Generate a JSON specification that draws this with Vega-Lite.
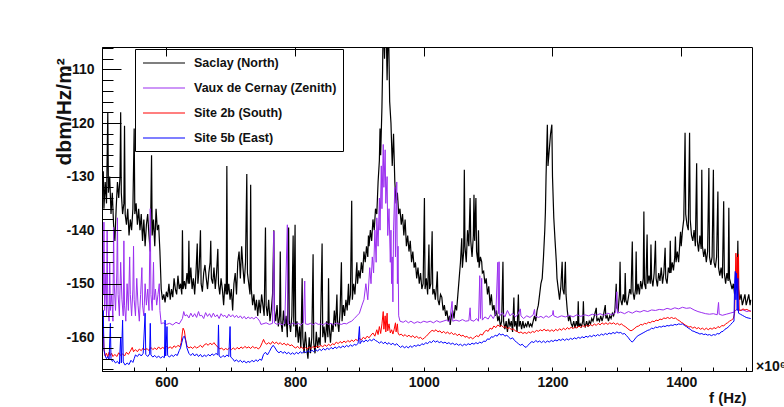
{
"$schema": "https://vega.github.io/schema/vega-lite/v6.json",
"width": 650, "height": 324,
"autosize": {"type": "none"},
"padding": {"left": 102, "top": 47, "right": 32, "bottom": 36},
"background": "white",
"title": {"text": "×10⁶", "orient": "bottom", "anchor": "end", "frame": "group", "align": "left", "baseline": "alphabetic", "dx": 4, "dy": -34, "offset": 0, "font": "Liberation Sans", "fontSize": 14, "fontWeight": "bold", "color": "#111"},
"config": {
  "view": {"stroke": "black", "strokeWidth": 1},
  "font": "Liberation Sans",
  "legend": {"strokeWidth": 1}
},
"datasets": {
"sac": [
{"f":500,"v":-134},{"f":502,"v":-129},{"f":503,"v":-136},{"f":505,"v":-131},{"f":507,"v":-135},{"f":509,"v":-118},{"f":510,"v":-133},{"f":512,"v":-130},{"f":514,"v":-137},{"f":516,"v":-133},{"f":518,"v":-139},{"f":520,"v":-142},{"f":522,"v":-136},{"f":524,"v":-131},{"f":526,"v":-134},{"f":528,"v":-130},{"f":529,"v":-118},{"f":530,"v":-133},{"f":532,"v":-137},{"f":534,"v":-135},{"f":535,"v":-120.5},{"f":536,"v":-137},{"f":538,"v":-139},{"f":540,"v":-136},{"f":542,"v":-141},{"f":544,"v":-138},{"f":546,"v":-140},{"f":548,"v":-136},{"f":550,"v":-121},{"f":551,"v":-137},{"f":553,"v":-135},{"f":555,"v":-139},{"f":557,"v":-136},{"f":559,"v":-140},{"f":561,"v":-137},{"f":563,"v":-142},{"f":565,"v":-138},{"f":567,"v":-143},{"f":569,"v":-139},{"f":571,"v":-137},{"f":573,"v":-141},{"f":575,"v":-144},{"f":577,"v":-126},{"f":578,"v":-141},{"f":580,"v":-138},{"f":582,"v":-143},{"f":584,"v":-136},{"f":586,"v":-140},{"f":588,"v":-139},{"f":590,"v":-144},{"f":592,"v":-151},{"f":594,"v":-153},{"f":596,"v":-152},{"f":598,"v":-153.5},{"f":600,"v":-151.5},{"f":602,"v":-152.5},{"f":604,"v":-150},{"f":606,"v":-153},{"f":608,"v":-151},{"f":610,"v":-152.5},{"f":612,"v":-149},{"f":614,"v":-151},{"f":616,"v":-152},{"f":618,"v":-148.5},{"f":620,"v":-151},{"f":622,"v":-150},{"f":624,"v":-152},{"f":625,"v":-140},{"f":626,"v":-151},{"f":628,"v":-149.5},{"f":630,"v":-151},{"f":632,"v":-148},{"f":634,"v":-150},{"f":635,"v":-142},{"f":636,"v":-150},{"f":638,"v":-147},{"f":640,"v":-151},{"f":642,"v":-149},{"f":644,"v":-152},{"f":646,"v":-148},{"f":648,"v":-142.5},{"f":649,"v":-150},{"f":651,"v":-147},{"f":653,"v":-140},{"f":654,"v":-150},{"f":656,"v":-151.5},{"f":658,"v":-148},{"f":660,"v":-146.5},{"f":662,"v":-149},{"f":664,"v":-151},{"f":666,"v":-148},{"f":668,"v":-146},{"f":669,"v":-142},{"f":670,"v":-149},{"f":672,"v":-150},{"f":674,"v":-147},{"f":676,"v":-151},{"f":678,"v":-148},{"f":680,"v":-143.5},{"f":681,"v":-150},{"f":683,"v":-152},{"f":685,"v":-149},{"f":687,"v":-151},{"f":689,"v":-154},{"f":691,"v":-150},{"f":693,"v":-152},{"f":694,"v":-128},{"f":695,"v":-152},{"f":697,"v":-150},{"f":699,"v":-153},{"f":701,"v":-151},{"f":703,"v":-155},{"f":705,"v":-150},{"f":707,"v":-148},{"f":709,"v":-152},{"f":711,"v":-146},{"f":713,"v":-144},{"f":715,"v":-149},{"f":717,"v":-143},{"f":719,"v":-147},{"f":721,"v":-150},{"f":723,"v":-146},{"f":725,"v":-129.5},{"f":726,"v":-148},{"f":728,"v":-150},{"f":730,"v":-152},{"f":731,"v":-131.5},{"f":732,"v":-151},{"f":734,"v":-154},{"f":736,"v":-152},{"f":738,"v":-155},{"f":740,"v":-153},{"f":742,"v":-156},{"f":744,"v":-153},{"f":746,"v":-155.5},{"f":748,"v":-152},{"f":750,"v":-154},{"f":752,"v":-156},{"f":754,"v":-139.5},{"f":755,"v":-154},{"f":757,"v":-156},{"f":759,"v":-153},{"f":761,"v":-157},{"f":763,"v":-155},{"f":765,"v":-152},{"f":767,"v":-140},{"f":768,"v":-155},{"f":770,"v":-157},{"f":772,"v":-154},{"f":774,"v":-158},{"f":776,"v":-156},{"f":777,"v":-144},{"f":778,"v":-157},{"f":780,"v":-159},{"f":782,"v":-155},{"f":784,"v":-158},{"f":786,"v":-156},{"f":788,"v":-160},{"f":790,"v":-139.5},{"f":791,"v":-157},{"f":793,"v":-159},{"f":795,"v":-156},{"f":797,"v":-141},{"f":798,"v":-158},{"f":800,"v":-139},{"f":801,"v":-160},{"f":803,"v":-157},{"f":805,"v":-161},{"f":807,"v":-158},{"f":809,"v":-162},{"f":811,"v":-149},{"f":812,"v":-160},{"f":814,"v":-163},{"f":816,"v":-159},{"f":818,"v":-162},{"f":820,"v":-164},{"f":822,"v":-160},{"f":824,"v":-163},{"f":826,"v":-160},{"f":828,"v":-144.5},{"f":829,"v":-161},{"f":831,"v":-163},{"f":833,"v":-159},{"f":835,"v":-162},{"f":837,"v":-160},{"f":839,"v":-161.5},{"f":842,"v":-142.5},{"f":843,"v":-160},{"f":845,"v":-158},{"f":847,"v":-161},{"f":849,"v":-157},{"f":851,"v":-160},{"f":852,"v":-149},{"f":853,"v":-158},{"f":855,"v":-161},{"f":857,"v":-157.5},{"f":859,"v":-159},{"f":861,"v":-155},{"f":863,"v":-158},{"f":865,"v":-152},{"f":866,"v":-157},{"f":868,"v":-159},{"f":870,"v":-155},{"f":872,"v":-146},{"f":873,"v":-157},{"f":875,"v":-154},{"f":877,"v":-156},{"f":879,"v":-153},{"f":881,"v":-155},{"f":883,"v":-150},{"f":884,"v":-154},{"f":886,"v":-152},{"f":888,"v":-134.5},{"f":889,"v":-153},{"f":891,"v":-150},{"f":893,"v":-152},{"f":895,"v":-148},{"f":896,"v":-146},{"f":897,"v":-150},{"f":899,"v":-147.5},{"f":901,"v":-149},{"f":903,"v":-146},{"f":905,"v":-148},{"f":907,"v":-144},{"f":909,"v":-146},{"f":911,"v":-143},{"f":913,"v":-145},{"f":914,"v":-141},{"f":915,"v":-143},{"f":917,"v":-140},{"f":919,"v":-142},{"f":921,"v":-138},{"f":923,"v":-140},{"f":925,"v":-136},{"f":927,"v":-137},{"f":929,"v":-131},{"f":931,"v":-127},{"f":932,"v":-121},{"f":933,"v":-126},{"f":935,"v":-117},{"f":936,"v":-110},{"f":937,"v":-100},{"f":939,"v":-108},{"f":941,"v":-98},{"f":943,"v":-112},{"f":945,"v":-100},{"f":947,"v":-116},{"f":949,"v":-120},{"f":951,"v":-128},{"f":953,"v":-122},{"f":955,"v":-131},{"f":957,"v":-135},{"f":959,"v":-133},{"f":961,"v":-137},{"f":963,"v":-136},{"f":965,"v":-139},{"f":967,"v":-137},{"f":969,"v":-141},{"f":971,"v":-138},{"f":973,"v":-143},{"f":975,"v":-141},{"f":977,"v":-144},{"f":979,"v":-142},{"f":981,"v":-146},{"f":983,"v":-144},{"f":985,"v":-147},{"f":987,"v":-146},{"f":989,"v":-149},{"f":991,"v":-147},{"f":993,"v":-150},{"f":995,"v":-148},{"f":997,"v":-151},{"f":999,"v":-150},{"f":1001,"v":-134},{"f":1002,"v":-151},{"f":1004,"v":-149},{"f":1006,"v":-152},{"f":1008,"v":-142.7},{"f":1009,"v":-151},{"f":1011,"v":-150},{"f":1013,"v":-140.2},{"f":1014,"v":-152},{"f":1016,"v":-151},{"f":1018,"v":-153},{"f":1020,"v":-150},{"f":1021,"v":-147.7},{"f":1022,"v":-153},{"f":1024,"v":-154},{"f":1026,"v":-152},{"f":1028,"v":-152.5},{"f":1030,"v":-155},{"f":1032,"v":-154},{"f":1034,"v":-156},{"f":1036,"v":-155},{"f":1038,"v":-157},{"f":1040,"v":-156},{"f":1041,"v":-157.7},{"f":1043,"v":-156},{"f":1045,"v":-155},{"f":1047,"v":-156.5},{"f":1049,"v":-154},{"f":1051,"v":-155},{"f":1053,"v":-152},{"f":1055,"v":-149},{"f":1057,"v":-146},{"f":1059,"v":-141.5},{"f":1060,"v":-147},{"f":1062,"v":-144},{"f":1063,"v":-128.7},{"f":1064,"v":-143},{"f":1066,"v":-146},{"f":1068,"v":-140},{"f":1070,"v":-143},{"f":1072,"v":-134},{"f":1073,"v":-142},{"f":1075,"v":-145},{"f":1077,"v":-141},{"f":1078,"v":-133.4},{"f":1079,"v":-142},{"f":1081,"v":-134},{"f":1082,"v":-144},{"f":1084,"v":-146},{"f":1085,"v":-140},{"f":1086,"v":-147},{"f":1088,"v":-145},{"f":1090,"v":-145.9},{"f":1091,"v":-148},{"f":1093,"v":-147.7},{"f":1095,"v":-150},{"f":1097,"v":-149},{"f":1099,"v":-152},{"f":1101,"v":-150.5},{"f":1103,"v":-154},{"f":1105,"v":-152},{"f":1107,"v":-155},{"f":1109,"v":-154},{"f":1111,"v":-156},{"f":1113,"v":-155},{"f":1115,"v":-157},{"f":1117,"v":-156},{"f":1119,"v":-158},{"f":1121,"v":-157},{"f":1123,"v":-145.9},{"f":1124,"v":-157},{"f":1126,"v":-158.5},{"f":1128,"v":-157},{"f":1130,"v":-159},{"f":1132,"v":-156.5},{"f":1134,"v":-158},{"f":1136,"v":-157},{"f":1138,"v":-159},{"f":1140,"v":-152.6},{"f":1141,"v":-158},{"f":1143,"v":-157},{"f":1145,"v":-159},{"f":1147,"v":-152},{"f":1148,"v":-158},{"f":1150,"v":-157},{"f":1152,"v":-158.5},{"f":1154,"v":-157},{"f":1156,"v":-158.3},{"f":1158,"v":-157.5},{"f":1160,"v":-158},{"f":1162,"v":-157},{"f":1164,"v":-158},{"f":1166,"v":-157.5},{"f":1168,"v":-158},{"f":1170,"v":-157},{"f":1172,"v":-156},{"f":1174,"v":-157},{"f":1176,"v":-155},{"f":1178,"v":-154},{"f":1180,"v":-152},{"f":1182,"v":-150},{"f":1184,"v":-149},{"f":1186,"v":-145},{"f":1188,"v":-140},{"f":1189,"v":-136.5},{"f":1190,"v":-130},{"f":1192,"v":-120.3},{"f":1193,"v":-128},{"f":1195,"v":-125},{"f":1197,"v":-122},{"f":1199,"v":-120.3},{"f":1200,"v":-130},{"f":1202,"v":-137.7},{"f":1204,"v":-142},{"f":1206,"v":-146},{"f":1207,"v":-149},{"f":1209,"v":-151},{"f":1211,"v":-153},{"f":1213,"v":-150.5},{"f":1215,"v":-145.9},{"f":1216,"v":-151},{"f":1218,"v":-152},{"f":1220,"v":-145.9},{"f":1221,"v":-152},{"f":1223,"v":-155},{"f":1225,"v":-157},{"f":1227,"v":-156},{"f":1229,"v":-157.5},{"f":1231,"v":-158},{"f":1233,"v":-157},{"f":1235,"v":-158.3},{"f":1237,"v":-157},{"f":1239,"v":-158},{"f":1240,"v":-153.3},{"f":1241,"v":-158},{"f":1243,"v":-157.5},{"f":1245,"v":-158},{"f":1247,"v":-157},{"f":1248,"v":-153.3},{"f":1249,"v":-157.5},{"f":1251,"v":-158},{"f":1253,"v":-157},{"f":1255,"v":-158},{"f":1257,"v":-157},{"f":1259,"v":-157.5},{"f":1261,"v":-156.5},{"f":1263,"v":-157},{"f":1265,"v":-156},{"f":1268,"v":-154.5},{"f":1269,"v":-157},{"f":1271,"v":-156.5},{"f":1273,"v":-157},{"f":1275,"v":-156},{"f":1277,"v":-157},{"f":1279,"v":-156},{"f":1282,"v":-154},{"f":1283,"v":-156.5},{"f":1285,"v":-156},{"f":1287,"v":-157},{"f":1289,"v":-156},{"f":1291,"v":-156.5},{"f":1293,"v":-155.5},{"f":1295,"v":-156},{"f":1297,"v":-155},{"f":1299,"v":-150},{"f":1300,"v":-154.5},{"f":1302,"v":-155},{"f":1304,"v":-152},{"f":1305,"v":-145.9},{"f":1306,"v":-153},{"f":1308,"v":-154},{"f":1310,"v":-152},{"f":1312,"v":-153.5},{"f":1313,"v":-148},{"f":1314,"v":-153},{"f":1316,"v":-154},{"f":1318,"v":-152.5},{"f":1320,"v":-151},{"f":1322,"v":-152},{"f":1324,"v":-142.1},{"f":1325,"v":-151.5},{"f":1327,"v":-153},{"f":1329,"v":-151},{"f":1330,"v":-144},{"f":1331,"v":-152},{"f":1333,"v":-150},{"f":1335,"v":-152},{"f":1337,"v":-149.5},{"f":1339,"v":-151},{"f":1341,"v":-149},{"f":1342,"v":-136.5},{"f":1343,"v":-150},{"f":1345,"v":-151},{"f":1347,"v":-140.8},{"f":1348,"v":-150},{"f":1350,"v":-148.5},{"f":1352,"v":-150},{"f":1353,"v":-142.7},{"f":1354,"v":-149},{"f":1356,"v":-150.5},{"f":1358,"v":-148},{"f":1360,"v":-142},{"f":1361,"v":-149},{"f":1363,"v":-150.5},{"f":1365,"v":-148},{"f":1367,"v":-149.5},{"f":1369,"v":-147},{"f":1371,"v":-150},{"f":1373,"v":-148},{"f":1375,"v":-143.3},{"f":1376,"v":-149},{"f":1378,"v":-150},{"f":1380,"v":-147},{"f":1382,"v":-148},{"f":1383,"v":-142},{"f":1384,"v":-148},{"f":1386,"v":-146},{"f":1388,"v":-147.5},{"f":1390,"v":-145},{"f":1391,"v":-141.2},{"f":1392,"v":-146},{"f":1394,"v":-144},{"f":1396,"v":-146},{"f":1398,"v":-142},{"f":1399,"v":-140.3},{"f":1400,"v":-143},{"f":1402,"v":-140},{"f":1404,"v":-138},{"f":1406,"v":-121.8},{"f":1407,"v":-137},{"f":1409,"v":-139},{"f":1411,"v":-140},{"f":1413,"v":-121.8},{"f":1414,"v":-138},{"f":1416,"v":-141},{"f":1418,"v":-142},{"f":1420,"v":-140},{"f":1422,"v":-143},{"f":1424,"v":-127.5},{"f":1425,"v":-142},{"f":1427,"v":-144},{"f":1429,"v":-141},{"f":1431,"v":-143.5},{"f":1432,"v":-128.7},{"f":1433,"v":-143},{"f":1435,"v":-145},{"f":1437,"v":-143.5},{"f":1439,"v":-146},{"f":1441,"v":-144},{"f":1443,"v":-128.4},{"f":1444,"v":-145},{"f":1446,"v":-146.5},{"f":1448,"v":-145},{"f":1450,"v":-128.7},{"f":1451,"v":-146},{"f":1453,"v":-147},{"f":1455,"v":-145},{"f":1457,"v":-132.8},{"f":1458,"v":-147},{"f":1460,"v":-148.5},{"f":1462,"v":-147},{"f":1464,"v":-149},{"f":1466,"v":-134.6},{"f":1467,"v":-148},{"f":1469,"v":-150},{"f":1471,"v":-148},{"f":1473,"v":-149.5},{"f":1474,"v":-135.8},{"f":1475,"v":-149},{"f":1477,"v":-150},{"f":1479,"v":-151},{"f":1481,"v":-150},{"f":1483,"v":-152},{"f":1485,"v":-151},{"f":1487,"v":-150},{"f":1488,"v":-142},{"f":1489,"v":-151},{"f":1491,"v":-153},{"f":1493,"v":-152},{"f":1495,"v":-154},{"f":1497,"v":-153},{"f":1499,"v":-152},{"f":1501,"v":-154},{"f":1503,"v":-153},{"f":1505,"v":-152},{"f":1507,"v":-154},{"f":1508,"v":-153}
],
"vdc": [
{"f":500,"v":-150},{"f":501,"v":-141},{"f":502,"v":-152},{"f":503,"v":-138.5},{"f":504,"v":-155},{"f":506,"v":-148},{"f":507,"v":-156},{"f":508,"v":-140},{"f":509,"v":-154},{"f":511,"v":-157},{"f":512,"v":-146},{"f":513,"v":-155},{"f":515,"v":-152},{"f":517,"v":-157},{"f":518,"v":-139.5},{"f":519,"v":-150},{"f":521,"v":-155},{"f":523,"v":-148},{"f":524,"v":-137.7},{"f":525,"v":-152},{"f":527,"v":-156},{"f":529,"v":-146},{"f":531,"v":-153},{"f":533,"v":-156},{"f":534,"v":-142},{"f":535,"v":-154},{"f":537,"v":-157},{"f":539,"v":-150},{"f":541,"v":-155},{"f":543,"v":-145},{"f":544,"v":-152},{"f":546,"v":-156},{"f":548,"v":-151},{"f":549,"v":-143},{"f":550,"v":-153},{"f":552,"v":-156},{"f":554,"v":-149},{"f":556,"v":-154},{"f":558,"v":-157},{"f":560,"v":-152},{"f":562,"v":-147},{"f":563,"v":-154},{"f":565,"v":-156},{"f":567,"v":-150},{"f":569,"v":-154},{"f":571,"v":-151},{"f":573,"v":-155},{"f":575,"v":-136},{"f":576,"v":-152},{"f":578,"v":-155},{"f":580,"v":-146},{"f":581,"v":-153},{"f":583,"v":-151},{"f":585,"v":-154},{"f":587,"v":-152},{"f":589,"v":-150},{"f":590,"v":-155},{"f":592,"v":-157.5},{"f":595,"v":-157.3},{"f":600,"v":-157.6},{"f":605,"v":-157.4},{"f":610,"v":-157.7},{"f":615,"v":-157.2},{"f":620,"v":-157.5},{"f":625,"v":-156.5},{"f":627,"v":-155.2},{"f":629,"v":-156},{"f":632,"v":-155.8},{"f":635,"v":-156.4},{"f":638,"v":-155.5},{"f":641,"v":-156.2},{"f":644,"v":-155.6},{"f":647,"v":-156.3},{"f":650,"v":-155.2},{"f":652,"v":-156},{"f":655,"v":-155.9},{"f":658,"v":-156.5},{"f":661,"v":-155.4},{"f":664,"v":-156.1},{"f":667,"v":-155.6},{"f":670,"v":-156.3},{"f":673,"v":-155.5},{"f":676,"v":-156.2},{"f":679,"v":-155.8},{"f":682,"v":-156.5},{"f":685,"v":-155.6},{"f":688,"v":-156.1},{"f":691,"v":-155.9},{"f":694,"v":-156.4},{"f":697,"v":-155.7},{"f":700,"v":-156.2},{"f":703,"v":-155.8},{"f":706,"v":-156.3},{"f":709,"v":-155.9},{"f":712,"v":-156.4},{"f":715,"v":-156},{"f":718,"v":-156.5},{"f":721,"v":-156.1},{"f":724,"v":-156.6},{"f":727,"v":-156.2},{"f":730,"v":-156.5},{"f":733,"v":-156.3},{"f":736,"v":-156.6},{"f":739,"v":-156.2},{"f":742,"v":-156.5},{"f":745,"v":-157},{"f":747,"v":-157.6},{"f":750,"v":-157.5},{"f":755,"v":-157.3},{"f":760,"v":-157.6},{"f":765,"v":-157.4},{"f":767,"v":-140.2},{"f":768,"v":-157.3},{"f":772,"v":-157.6},{"f":776,"v":-157.4},{"f":780,"v":-157.7},{"f":784,"v":-157.4},{"f":788,"v":-139},{"f":789,"v":-157.5},{"f":793,"v":-157.7},{"f":797,"v":-157.3},{"f":801,"v":-157.6},{"f":805,"v":-157.4},{"f":809,"v":-157.7},{"f":813,"v":-157.3},{"f":815,"v":-149.5},{"f":816,"v":-157.5},{"f":820,"v":-157.6},{"f":824,"v":-157.4},{"f":828,"v":-157.7},{"f":832,"v":-157.3},{"f":836,"v":-157.6},{"f":840,"v":-157.5},{"f":844,"v":-157.7},{"f":848,"v":-157.3},{"f":852,"v":-157.6},{"f":856,"v":-157.4},{"f":860,"v":-157.7},{"f":864,"v":-157.3},{"f":868,"v":-157.5},{"f":872,"v":-157.6},{"f":876,"v":-157.4},{"f":880,"v":-157.5},{"f":884,"v":-157.2},{"f":888,"v":-157},{"f":892,"v":-156.5},{"f":896,"v":-156},{"f":900,"v":-155.5},{"f":904,"v":-154},{"f":907,"v":-153},{"f":910,"v":-150},{"f":913,"v":-153},{"f":916,"v":-147},{"f":918,"v":-150},{"f":920,"v":-145},{"f":922,"v":-148},{"f":924,"v":-140},{"f":926,"v":-146},{"f":927,"v":-137.7},{"f":929,"v":-143},{"f":931,"v":-134},{"f":932,"v":-140},{"f":934,"v":-128},{"f":935,"v":-136},{"f":937,"v":-124},{"f":938,"v":-132},{"f":940,"v":-125},{"f":941,"v":-135},{"f":943,"v":-130},{"f":944,"v":-141},{"f":946,"v":-136},{"f":948,"v":-146},{"f":949,"v":-140},{"f":950,"v":-150},{"f":951,"v":-145},{"f":952,"v":-153.4},{"f":953,"v":-140},{"f":955,"v":-132},{"f":956,"v":-145},{"f":958,"v":-131},{"f":959,"v":-150},{"f":960,"v":-143},{"f":961,"v":-156},{"f":963,"v":-157},{"f":968,"v":-157.2},{"f":972,"v":-156.9},{"f":976,"v":-157.3},{"f":980,"v":-157},{"f":985,"v":-157.4},{"f":990,"v":-157.1},{"f":995,"v":-157.3},{"f":1000,"v":-157},{"f":1005,"v":-157.2},{"f":1010,"v":-157},{"f":1015,"v":-157.3},{"f":1020,"v":-156.9},{"f":1025,"v":-157.2},{"f":1030,"v":-157},{"f":1035,"v":-156.8},{"f":1040,"v":-157.1},{"f":1044,"v":-153.3},{"f":1045,"v":-157},{"f":1050,"v":-156.8},{"f":1055,"v":-157},{"f":1060,"v":-156.7},{"f":1065,"v":-157},{"f":1070,"v":-156.9},{"f":1072,"v":-154.5},{"f":1073,"v":-156.8},{"f":1078,"v":-157},{"f":1082,"v":-156.5},{"f":1085,"v":-157},{"f":1087,"v":-148.5},{"f":1088,"v":-156.5},{"f":1090,"v":-149},{"f":1091,"v":-156.8},{"f":1095,"v":-156.2},{"f":1100,"v":-156.6},{"f":1104,"v":-155.8},{"f":1108,"v":-156.5},{"f":1112,"v":-155.5},{"f":1115,"v":-146},{"f":1116,"v":-155.6},{"f":1117,"v":-145.9},{"f":1118,"v":-156},{"f":1122,"v":-155.4},{"f":1126,"v":-156.2},{"f":1130,"v":-155},{"f":1134,"v":-156},{"f":1138,"v":-155.5},{"f":1142,"v":-156.2},{"f":1146,"v":-155.8},{"f":1150,"v":-154.7},{"f":1151,"v":-156},{"f":1155,"v":-156.5},{"f":1160,"v":-156},{"f":1165,"v":-156.3},{"f":1170,"v":-155.8},{"f":1172,"v":-154.8},{"f":1173,"v":-156},{"f":1178,"v":-156.3},{"f":1182,"v":-156.1},{"f":1186,"v":-156.4},{"f":1190,"v":-156},{"f":1194,"v":-156.3},{"f":1200,"v":-155.8},{"f":1201,"v":-155},{"f":1202,"v":-156},{"f":1208,"v":-156.3},{"f":1214,"v":-156},{"f":1220,"v":-156.2},{"f":1226,"v":-155.9},{"f":1232,"v":-156.2},{"f":1238,"v":-155.8},{"f":1244,"v":-156.1},{"f":1250,"v":-155.8},{"f":1256,"v":-156},{"f":1262,"v":-155.7},{"f":1268,"v":-155.9},{"f":1274,"v":-155.6},{"f":1280,"v":-155.9},{"f":1286,"v":-155.5},{"f":1292,"v":-155.8},{"f":1298,"v":-155.4},{"f":1300,"v":-151.5},{"f":1301,"v":-155.5},{"f":1306,"v":-155.3},{"f":1312,"v":-155.6},{"f":1318,"v":-155.2},{"f":1324,"v":-155.5},{"f":1330,"v":-155.1},{"f":1336,"v":-155.3},{"f":1342,"v":-155},{"f":1348,"v":-155.2},{"f":1354,"v":-154.9},{"f":1360,"v":-155},{"f":1366,"v":-154.8},{"f":1372,"v":-154.9},{"f":1378,"v":-154.6},{"f":1384,"v":-154.8},{"f":1390,"v":-154.5},{"f":1396,"v":-154.7},{"f":1402,"v":-154.4},{"f":1408,"v":-154.6},{"f":1414,"v":-154.5},{"f":1420,"v":-154.9},{"f":1426,"v":-155.2},{"f":1432,"v":-155.4},{"f":1438,"v":-155.6},{"f":1444,"v":-155.7},{"f":1450,"v":-155.6},{"f":1456,"v":-155.8},{"f":1458,"v":-153.5},{"f":1459,"v":-155.7},{"f":1464,"v":-155.9},{"f":1470,"v":-155.7},{"f":1476,"v":-155.5},{"f":1482,"v":-155.3},{"f":1486,"v":-154.8},{"f":1490,"v":-155},{"f":1496,"v":-154.9},{"f":1502,"v":-155.2},{"f":1508,"v":-155}
],
"s2b": [
{"f":500,"v":-152},{"f":501,"v":-155},{"f":502,"v":-158},{"f":503,"v":-162},{"f":505,"v":-163.5},{"f":507,"v":-163},{"f":509,"v":-163.7},{"f":511,"v":-162.8},{"f":513,"v":-163.4},{"f":515,"v":-163},{"f":517,"v":-163.6},{"f":520,"v":-163.2},{"f":523,"v":-163.6},{"f":526,"v":-162.9},{"f":529,"v":-163.4},{"f":532,"v":-163.1},{"f":535,"v":-163.5},{"f":538,"v":-162.8},{"f":541,"v":-163.2},{"f":544,"v":-162.6},{"f":547,"v":-161.9},{"f":549,"v":-162.7},{"f":552,"v":-162.3},{"f":555,"v":-162.7},{"f":558,"v":-162.2},{"f":561,"v":-162.5},{"f":564,"v":-162},{"f":567,"v":-162.4},{"f":570,"v":-162.1},{"f":573,"v":-162.5},{"f":576,"v":-161.9},{"f":579,"v":-162.3},{"f":582,"v":-162},{"f":585,"v":-162.3},{"f":588,"v":-161.8},{"f":591,"v":-162.2},{"f":594,"v":-161.9},{"f":597,"v":-162.1},{"f":600,"v":-161.7},{"f":603,"v":-162},{"f":606,"v":-161.8},{"f":609,"v":-162.1},{"f":612,"v":-161.6},{"f":615,"v":-161.9},{"f":618,"v":-161.5},{"f":621,"v":-161.8},{"f":623,"v":-161},{"f":625,"v":-159},{"f":626,"v":-158.3},{"f":628,"v":-158.8},{"f":630,"v":-160.5},{"f":632,"v":-161.6},{"f":635,"v":-162},{"f":638,"v":-161.8},{"f":641,"v":-162.1},{"f":644,"v":-161.7},{"f":647,"v":-162},{"f":650,"v":-161.8},{"f":653,"v":-161.5},{"f":656,"v":-161.9},{"f":659,"v":-161.4},{"f":662,"v":-161.2},{"f":665,"v":-161.5},{"f":668,"v":-161.1},{"f":671,"v":-161.4},{"f":674,"v":-161},{"f":677,"v":-161.5},{"f":680,"v":-161.8},{"f":683,"v":-162.2},{"f":686,"v":-162},{"f":689,"v":-162.4},{"f":692,"v":-162.1},{"f":695,"v":-162.3},{"f":698,"v":-162},{"f":701,"v":-162.3},{"f":704,"v":-162},{"f":707,"v":-162.3},{"f":710,"v":-161.9},{"f":713,"v":-162.2},{"f":716,"v":-161.8},{"f":719,"v":-162.1},{"f":722,"v":-161.7},{"f":725,"v":-162},{"f":728,"v":-161.8},{"f":731,"v":-162.1},{"f":734,"v":-161.7},{"f":737,"v":-162},{"f":740,"v":-161.9},{"f":743,"v":-162.2},{"f":746,"v":-161.8},{"f":749,"v":-161},{"f":751,"v":-160.4},{"f":753,"v":-161},{"f":756,"v":-161.3},{"f":759,"v":-161},{"f":762,"v":-161.3},{"f":765,"v":-160.8},{"f":768,"v":-161.2},{"f":771,"v":-160.9},{"f":774,"v":-161.3},{"f":777,"v":-161},{"f":780,"v":-161.4},{"f":783,"v":-161.1},{"f":786,"v":-161.5},{"f":789,"v":-161.2},{"f":792,"v":-161.6},{"f":795,"v":-161.4},{"f":798,"v":-161.8},{"f":801,"v":-162},{"f":804,"v":-161.7},{"f":807,"v":-162.1},{"f":810,"v":-161.8},{"f":813,"v":-162.2},{"f":816,"v":-161.9},{"f":819,"v":-162.2},{"f":822,"v":-161.8},{"f":825,"v":-162.1},{"f":828,"v":-161.7},{"f":831,"v":-162},{"f":834,"v":-161.6},{"f":837,"v":-161.9},{"f":840,"v":-161.5},{"f":843,"v":-161.8},{"f":846,"v":-161.4},{"f":849,"v":-161.7},{"f":852,"v":-161.3},{"f":855,"v":-161.6},{"f":858,"v":-161.2},{"f":861,"v":-161.4},{"f":864,"v":-160.9},{"f":867,"v":-161.2},{"f":870,"v":-160.8},{"f":873,"v":-161.1},{"f":876,"v":-160.7},{"f":879,"v":-161},{"f":882,"v":-160.6},{"f":885,"v":-160.9},{"f":888,"v":-160.5},{"f":891,"v":-160.8},{"f":894,"v":-160.4},{"f":897,"v":-160.6},{"f":900,"v":-160.2},{"f":903,"v":-160.5},{"f":906,"v":-160},{"f":909,"v":-160.3},{"f":912,"v":-159.8},{"f":915,"v":-160.1},{"f":918,"v":-159.6},{"f":921,"v":-159.2},{"f":924,"v":-159.8},{"f":927,"v":-158.6},{"f":929,"v":-159.5},{"f":931,"v":-158},{"f":933,"v":-159.3},{"f":935,"v":-157.5},{"f":937,"v":-155.2},{"f":938,"v":-158.5},{"f":940,"v":-156},{"f":941,"v":-159},{"f":943,"v":-155.5},{"f":944,"v":-158.8},{"f":946,"v":-157.5},{"f":948,"v":-159.2},{"f":950,"v":-158.6},{"f":952,"v":-159.4},{"f":954,"v":-158.5},{"f":956,"v":-157.3},{"f":957,"v":-159},{"f":959,"v":-157.5},{"f":960,"v":-159.2},{"f":962,"v":-159.6},{"f":965,"v":-159.4},{"f":968,"v":-159.8},{"f":971,"v":-159.5},{"f":974,"v":-159.9},{"f":977,"v":-159.6},{"f":980,"v":-160},{"f":983,"v":-159.7},{"f":986,"v":-160.1},{"f":989,"v":-159.8},{"f":992,"v":-160.2},{"f":995,"v":-160},{"f":998,"v":-160.4},{"f":1001,"v":-160.1},{"f":1004,"v":-159.8},{"f":1007,"v":-159.4},{"f":1010,"v":-159},{"f":1013,"v":-158.7},{"f":1016,"v":-158.9},{"f":1019,"v":-158.6},{"f":1022,"v":-159},{"f":1025,"v":-158.8},{"f":1028,"v":-159.2},{"f":1031,"v":-158.9},{"f":1034,"v":-159.3},{"f":1037,"v":-159},{"f":1040,"v":-159.4},{"f":1043,"v":-159.1},{"f":1046,"v":-159.5},{"f":1049,"v":-159.3},{"f":1052,"v":-159.7},{"f":1055,"v":-159.4},{"f":1058,"v":-159.8},{"f":1061,"v":-159.6},{"f":1064,"v":-160},{"f":1067,"v":-159.8},{"f":1070,"v":-160.2},{"f":1073,"v":-160},{"f":1076,"v":-160.3},{"f":1079,"v":-160},{"f":1082,"v":-159.7},{"f":1085,"v":-159.9},{"f":1088,"v":-159.4},{"f":1091,"v":-159.6},{"f":1094,"v":-159},{"f":1097,"v":-158.7},{"f":1100,"v":-158.9},{"f":1103,"v":-158.3},{"f":1106,"v":-158.5},{"f":1109,"v":-157.9},{"f":1112,"v":-158.2},{"f":1115,"v":-157.7},{"f":1118,"v":-158},{"f":1121,"v":-157.8},{"f":1124,"v":-158.2},{"f":1127,"v":-158},{"f":1130,"v":-158.4},{"f":1133,"v":-158.2},{"f":1136,"v":-158.6},{"f":1139,"v":-158.4},{"f":1142,"v":-158.8},{"f":1145,"v":-158.9},{"f":1148,"v":-159.2},{"f":1151,"v":-159},{"f":1154,"v":-159.3},{"f":1157,"v":-159.1},{"f":1160,"v":-159.3},{"f":1163,"v":-159},{"f":1166,"v":-159.2},{"f":1169,"v":-158.9},{"f":1172,"v":-159.1},{"f":1175,"v":-158.7},{"f":1178,"v":-158.9},{"f":1181,"v":-158.6},{"f":1184,"v":-158.8},{"f":1187,"v":-158.5},{"f":1190,"v":-158.8},{"f":1193,"v":-158.6},{"f":1196,"v":-158.9},{"f":1199,"v":-158.6},{"f":1202,"v":-158.9},{"f":1205,"v":-158.5},{"f":1208,"v":-158.8},{"f":1211,"v":-158.4},{"f":1214,"v":-158.7},{"f":1217,"v":-158.3},{"f":1220,"v":-158.6},{"f":1223,"v":-158.2},{"f":1226,"v":-158.5},{"f":1229,"v":-158.1},{"f":1232,"v":-158.4},{"f":1235,"v":-158},{"f":1238,"v":-158.3},{"f":1241,"v":-157.9},{"f":1244,"v":-158.2},{"f":1247,"v":-157.8},{"f":1250,"v":-158.1},{"f":1253,"v":-157.7},{"f":1256,"v":-158},{"f":1259,"v":-157.6},{"f":1262,"v":-157.9},{"f":1265,"v":-157.5},{"f":1268,"v":-157.8},{"f":1271,"v":-157.4},{"f":1274,"v":-157.7},{"f":1277,"v":-157.3},{"f":1280,"v":-157.6},{"f":1283,"v":-157.3},{"f":1286,"v":-157.6},{"f":1289,"v":-157.3},{"f":1292,"v":-157.5},{"f":1295,"v":-157.3},{"f":1298,"v":-157.6},{"f":1301,"v":-157.4},{"f":1304,"v":-157.7},{"f":1307,"v":-157.5},{"f":1310,"v":-157.8},{"f":1313,"v":-158},{"f":1316,"v":-158.3},{"f":1319,"v":-158.6},{"f":1322,"v":-158.8},{"f":1325,"v":-158.6},{"f":1328,"v":-158.3},{"f":1331,"v":-158},{"f":1334,"v":-157.9},{"f":1337,"v":-157.6},{"f":1340,"v":-157.7},{"f":1343,"v":-157.4},{"f":1346,"v":-157.5},{"f":1349,"v":-157.2},{"f":1352,"v":-157.3},{"f":1355,"v":-157},{"f":1358,"v":-157.1},{"f":1361,"v":-156.8},{"f":1364,"v":-156.9},{"f":1367,"v":-156.6},{"f":1370,"v":-156.7},{"f":1373,"v":-156.4},{"f":1376,"v":-156.5},{"f":1379,"v":-156.3},{"f":1382,"v":-156.5},{"f":1385,"v":-156.3},{"f":1388,"v":-156.5},{"f":1391,"v":-156.4},{"f":1394,"v":-156.7},{"f":1397,"v":-156.9},{"f":1400,"v":-157.2},{"f":1403,"v":-157.4},{"f":1406,"v":-157.7},{"f":1409,"v":-157.9},{"f":1412,"v":-158.1},{"f":1415,"v":-158},{"f":1418,"v":-158.3},{"f":1421,"v":-158.1},{"f":1424,"v":-158.4},{"f":1427,"v":-158.2},{"f":1430,"v":-158.5},{"f":1433,"v":-158.3},{"f":1436,"v":-158.6},{"f":1439,"v":-158.3},{"f":1442,"v":-158.6},{"f":1445,"v":-158.3},{"f":1448,"v":-158.5},{"f":1451,"v":-158.2},{"f":1454,"v":-158.4},{"f":1457,"v":-158},{"f":1460,"v":-158.2},{"f":1463,"v":-157.8},{"f":1466,"v":-157.9},{"f":1469,"v":-157.5},{"f":1472,"v":-157.3},{"f":1475,"v":-157},{"f":1478,"v":-156.8},{"f":1481,"v":-156.5},{"f":1483,"v":-155.5},{"f":1484,"v":-149},{"f":1485,"v":-144.3},{"f":1486,"v":-150},{"f":1487,"v":-145},{"f":1488,"v":-152},{"f":1489,"v":-144.5},{"f":1490,"v":-154.9},{"f":1493,"v":-155},{"f":1496,"v":-154.7},{"f":1499,"v":-154.9},{"f":1502,"v":-154.8},{"f":1505,"v":-155},{"f":1508,"v":-155.2}
],
"s5b": [
{"f":500,"v":-156},{"f":501,"v":-160},{"f":502,"v":-155},{"f":503,"v":-162.4},{"f":505,"v":-163.5},{"f":507,"v":-164},{"f":509,"v":-163.6},{"f":511,"v":-164.2},{"f":513,"v":-157.4},{"f":514,"v":-164},{"f":516,"v":-164.5},{"f":518,"v":-164.3},{"f":521,"v":-164.8},{"f":524,"v":-164.5},{"f":527,"v":-165},{"f":529,"v":-160},{"f":530,"v":-164.8},{"f":532,"v":-156.8},{"f":533,"v":-164.6},{"f":536,"v":-165.2},{"f":539,"v":-164.8},{"f":542,"v":-165.1},{"f":545,"v":-164.3},{"f":548,"v":-164.7},{"f":550,"v":-164},{"f":552,"v":-163.3},{"f":555,"v":-163.6},{"f":558,"v":-163.1},{"f":561,"v":-163.5},{"f":564,"v":-163},{"f":567,"v":-155.5},{"f":568,"v":-163.2},{"f":571,"v":-163.6},{"f":574,"v":-163.1},{"f":575,"v":-157.4},{"f":576,"v":-163.3},{"f":579,"v":-163.7},{"f":582,"v":-163.4},{"f":585,"v":-163.8},{"f":588,"v":-163.5},{"f":591,"v":-163.9},{"f":594,"v":-163.6},{"f":597,"v":-163.8},{"f":598,"v":-156.8},{"f":599,"v":-163.5},{"f":601,"v":-158},{"f":602,"v":-163.4},{"f":605,"v":-163.7},{"f":608,"v":-163.3},{"f":611,"v":-163.6},{"f":614,"v":-163.2},{"f":617,"v":-163.4},{"f":620,"v":-162.5},{"f":622,"v":-162},{"f":624,"v":-161},{"f":626,"v":-160},{"f":628,"v":-159.8},{"f":630,"v":-160.6},{"f":632,"v":-162},{"f":635,"v":-163},{"f":638,"v":-163.4},{"f":641,"v":-163},{"f":644,"v":-163.5},{"f":647,"v":-163.1},{"f":650,"v":-163.6},{"f":653,"v":-163.2},{"f":656,"v":-163.7},{"f":659,"v":-163.3},{"f":662,"v":-163.6},{"f":665,"v":-163.2},{"f":668,"v":-163.5},{"f":671,"v":-163.1},{"f":674,"v":-163.4},{"f":677,"v":-163},{"f":680,"v":-163.3},{"f":681,"v":-157.7},{"f":682,"v":-163.5},{"f":685,"v":-163.8},{"f":688,"v":-163.4},{"f":691,"v":-163.7},{"f":694,"v":-163.3},{"f":697,"v":-163.6},{"f":699,"v":-158},{"f":700,"v":-163.7},{"f":703,"v":-164},{"f":706,"v":-164.5},{"f":709,"v":-164.2},{"f":712,"v":-164.6},{"f":715,"v":-164.3},{"f":718,"v":-164.7},{"f":721,"v":-164.4},{"f":724,"v":-164.8},{"f":727,"v":-164.5},{"f":730,"v":-164.7},{"f":733,"v":-164.3},{"f":736,"v":-164.6},{"f":739,"v":-164.2},{"f":742,"v":-164.5},{"f":745,"v":-164.1},{"f":748,"v":-164.3},{"f":751,"v":-163.2},{"f":754,"v":-162.8},{"f":757,"v":-163.3},{"f":760,"v":-162.7},{"f":763,"v":-162},{"f":766,"v":-161.5},{"f":769,"v":-162},{"f":772,"v":-162.6},{"f":775,"v":-162.9},{"f":778,"v":-162.6},{"f":781,"v":-163},{"f":784,"v":-162.7},{"f":787,"v":-163.1},{"f":790,"v":-162.8},{"f":793,"v":-163.2},{"f":796,"v":-162.9},{"f":799,"v":-163.2},{"f":802,"v":-162.8},{"f":805,"v":-163.1},{"f":808,"v":-162.7},{"f":811,"v":-163},{"f":814,"v":-162.6},{"f":817,"v":-162.9},{"f":820,"v":-162.5},{"f":823,"v":-162.8},{"f":826,"v":-162.4},{"f":829,"v":-162.7},{"f":832,"v":-162.3},{"f":835,"v":-162.6},{"f":838,"v":-162.2},{"f":841,"v":-162.5},{"f":844,"v":-162.1},{"f":847,"v":-162.4},{"f":850,"v":-162},{"f":853,"v":-162.3},{"f":856,"v":-161.9},{"f":859,"v":-162.2},{"f":862,"v":-161.8},{"f":865,"v":-162.1},{"f":868,"v":-161.7},{"f":871,"v":-162},{"f":874,"v":-161.6},{"f":877,"v":-161.9},{"f":880,"v":-161.5},{"f":883,"v":-161.8},{"f":886,"v":-161.4},{"f":889,"v":-161.7},{"f":892,"v":-161.3},{"f":895,"v":-161.5},{"f":898,"v":-161.1},{"f":900,"v":-158},{"f":901,"v":-161.2},{"f":904,"v":-160.6},{"f":907,"v":-160.9},{"f":910,"v":-160.5},{"f":913,"v":-160.8},{"f":916,"v":-160.4},{"f":919,"v":-160.7},{"f":922,"v":-160.3},{"f":925,"v":-160.6},{"f":928,"v":-160.8},{"f":931,"v":-161.1},{"f":934,"v":-160.8},{"f":937,"v":-161.2},{"f":940,"v":-160.9},{"f":943,"v":-161.3},{"f":946,"v":-161},{"f":949,"v":-161.4},{"f":952,"v":-161.1},{"f":955,"v":-161.5},{"f":958,"v":-161.2},{"f":961,"v":-161.6},{"f":964,"v":-161.9},{"f":967,"v":-161.6},{"f":970,"v":-162},{"f":973,"v":-161.7},{"f":976,"v":-162},{"f":979,"v":-161.6},{"f":982,"v":-161.9},{"f":985,"v":-161.5},{"f":988,"v":-161.7},{"f":991,"v":-161.4},{"f":994,"v":-161.6},{"f":997,"v":-161.2},{"f":1000,"v":-161.4},{"f":1003,"v":-161},{"f":1006,"v":-161.2},{"f":1009,"v":-160.8},{"f":1012,"v":-161},{"f":1015,"v":-160.6},{"f":1018,"v":-160.9},{"f":1021,"v":-160.7},{"f":1024,"v":-161},{"f":1027,"v":-160.8},{"f":1030,"v":-161.1},{"f":1033,"v":-160.9},{"f":1036,"v":-161.2},{"f":1039,"v":-161},{"f":1042,"v":-161.3},{"f":1045,"v":-161.1},{"f":1048,"v":-161.4},{"f":1051,"v":-161.2},{"f":1054,"v":-161.5},{"f":1057,"v":-161.3},{"f":1060,"v":-161.6},{"f":1063,"v":-161.3},{"f":1066,"v":-161.5},{"f":1069,"v":-161.2},{"f":1072,"v":-161.4},{"f":1075,"v":-161.1},{"f":1078,"v":-161.3},{"f":1081,"v":-161},{"f":1084,"v":-161.2},{"f":1087,"v":-160.9},{"f":1090,"v":-161.1},{"f":1093,"v":-160.7},{"f":1096,"v":-160.8},{"f":1099,"v":-160.3},{"f":1102,"v":-160.4},{"f":1105,"v":-159.9},{"f":1108,"v":-160},{"f":1111,"v":-159.6},{"f":1114,"v":-159.8},{"f":1117,"v":-159.3},{"f":1120,"v":-159.6},{"f":1123,"v":-159.4},{"f":1126,"v":-159.8},{"f":1129,"v":-159.6},{"f":1132,"v":-160},{"f":1135,"v":-160.3},{"f":1138,"v":-160.1},{"f":1141,"v":-160.6},{"f":1144,"v":-160.9},{"f":1147,"v":-161.2},{"f":1150,"v":-161.5},{"f":1153,"v":-161.3},{"f":1156,"v":-161.7},{"f":1159,"v":-161.9},{"f":1162,"v":-161.5},{"f":1165,"v":-161.1},{"f":1168,"v":-160.8},{"f":1171,"v":-161},{"f":1174,"v":-160.6},{"f":1177,"v":-160.9},{"f":1180,"v":-160.7},{"f":1183,"v":-161},{"f":1186,"v":-160.7},{"f":1189,"v":-161},{"f":1192,"v":-160.7},{"f":1195,"v":-160.9},{"f":1198,"v":-160.6},{"f":1201,"v":-160.8},{"f":1204,"v":-160.5},{"f":1207,"v":-160.7},{"f":1210,"v":-160.4},{"f":1213,"v":-160.6},{"f":1216,"v":-160.3},{"f":1219,"v":-160.6},{"f":1222,"v":-160.3},{"f":1225,"v":-160.5},{"f":1228,"v":-160.2},{"f":1231,"v":-160.4},{"f":1234,"v":-160.1},{"f":1237,"v":-160.3},{"f":1240,"v":-160},{"f":1243,"v":-160.2},{"f":1246,"v":-159.9},{"f":1249,"v":-160.1},{"f":1252,"v":-159.8},{"f":1255,"v":-160},{"f":1258,"v":-159.7},{"f":1261,"v":-159.9},{"f":1264,"v":-159.6},{"f":1267,"v":-159.8},{"f":1270,"v":-159.5},{"f":1273,"v":-159.7},{"f":1276,"v":-159.4},{"f":1279,"v":-159.6},{"f":1282,"v":-159.3},{"f":1285,"v":-159.5},{"f":1288,"v":-159.2},{"f":1291,"v":-159.4},{"f":1294,"v":-159.1},{"f":1297,"v":-159.3},{"f":1300,"v":-159},{"f":1303,"v":-159.2},{"f":1306,"v":-159.1},{"f":1309,"v":-159.4},{"f":1312,"v":-159.3},{"f":1315,"v":-159.7},{"f":1318,"v":-160.1},{"f":1321,"v":-160.6},{"f":1324,"v":-160.9},{"f":1327,"v":-160.5},{"f":1330,"v":-160},{"f":1333,"v":-159.7},{"f":1336,"v":-159.5},{"f":1339,"v":-159.3},{"f":1342,"v":-159.1},{"f":1345,"v":-158.9},{"f":1348,"v":-158.7},{"f":1351,"v":-158.6},{"f":1354,"v":-158.3},{"f":1357,"v":-158.4},{"f":1360,"v":-158.1},{"f":1363,"v":-158.2},{"f":1366,"v":-158},{"f":1369,"v":-158.1},{"f":1372,"v":-157.9},{"f":1375,"v":-158},{"f":1378,"v":-157.8},{"f":1381,"v":-157.9},{"f":1384,"v":-157.7},{"f":1387,"v":-157.8},{"f":1390,"v":-157.6},{"f":1393,"v":-157.7},{"f":1396,"v":-157.5},{"f":1399,"v":-157.6},{"f":1402,"v":-157.5},{"f":1405,"v":-157.8},{"f":1408,"v":-158},{"f":1411,"v":-158.3},{"f":1414,"v":-158.5},{"f":1417,"v":-158.8},{"f":1420,"v":-158.9},{"f":1423,"v":-159.1},{"f":1426,"v":-159.2},{"f":1429,"v":-159.4},{"f":1432,"v":-159.3},{"f":1435,"v":-159.5},{"f":1438,"v":-159.4},{"f":1441,"v":-159.6},{"f":1444,"v":-159.5},{"f":1447,"v":-159.7},{"f":1450,"v":-159.5},{"f":1453,"v":-159.6},{"f":1456,"v":-159.3},{"f":1459,"v":-159.4},{"f":1462,"v":-159},{"f":1465,"v":-158.9},{"f":1468,"v":-158.5},{"f":1471,"v":-158.3},{"f":1474,"v":-158},{"f":1477,"v":-157.6},{"f":1480,"v":-157.2},{"f":1482,"v":-157},{"f":1483,"v":-150},{"f":1484,"v":-147.7},{"f":1485,"v":-153},{"f":1486,"v":-148},{"f":1487,"v":-155},{"f":1488,"v":-149},{"f":1489,"v":-155.5},{"f":1492,"v":-155.7},{"f":1495,"v":-155.9},{"f":1498,"v":-156.1},{"f":1501,"v":-156.3},{"f":1504,"v":-156.4},{"f":1508,"v":-156.5}
]
},
"encoding": {
  "x": {"field": "f", "type": "quantitative",
    "scale": {"domain": [500, 1510], "nice": false, "zero": false},
    "axis": {
      "values": [500,550,600,650,700,750,800,850,900,950,1000,1050,1100,1150,1200,1250,1300,1350,1400,1450,1500],
      "labelExpr": "(datum.value % 200 === 0 && datum.value > 500) ? toString(datum.value) : ''",
      "labelOverlap": false, "labelFlush": false, "labelBound": false,
      "labelFont": "Liberation Sans", "labelFontWeight": "bold", "labelFontSize": 14, "labelColor": "#111",
      "labelPadding": 8, "tickSize": -4, "tickColor": "black", "tickWidth": 1,
      "domainColor": "black", "domainWidth": 1,
      "grid": true, "gridDash": [9, 2000], "gridColor": "black", "gridWidth": 1,
      "gridOpacity": {"condition": {"test": "datum.value % 200 === 0", "value": 1}, "value": 0},
      "title": "f (Hz)", "titleFont": "Liberation Sans", "titleFontWeight": "bold", "titleFontSize": 15, "titleColor": "#111",
      "titleAlign": "right", "titleAnchor": "end", "titleBaseline": "alphabetic", "titleX": 644, "titleY": 31,
      "zindex": 1
    }},
  "y": {"field": "v", "type": "quantitative",
    "scale": {"domain": [-166.3, -105.8], "nice": false, "zero": false},
    "axis": {
      "values": [-166,-164,-162,-160,-158,-156,-154,-152,-150,-148,-146,-144,-142,-140,-138,-136,-134,-132,-130,-128,-126,-124,-122,-120,-118,-116,-114,-112,-110,-108,-106],
      "labelExpr": "(datum.value % 10 === 0) ? '-' + toString(abs(datum.value)) : ''",
      "labelOverlap": false, "labelFlush": false, "labelBound": false,
      "labelFont": "Liberation Sans", "labelFontWeight": "bold", "labelFontSize": 14, "labelColor": "#111",
      "labelPadding": 19, "tickSize": -11, "tickColor": "black", "tickWidth": 1,
      "domainColor": "black", "domainWidth": 1,
      "grid": true, "gridDash": [19, 2000], "gridColor": "black", "gridWidth": 1,
      "gridOpacity": {"condition": {"test": "datum.value % 10 === 0", "value": 1}, "value": 0},
      "title": "dbm/Hz/m²", "titleFont": "Liberation Sans", "titleFontWeight": "bold", "titleFontSize": 21, "titleColor": "#111",
      "titleAngle": 270, "titleAlign": "left", "titleBaseline": "alphabetic", "titleX": -32, "titleY": 118,
      "zindex": 1
    }}
},
"layer": [
  {"data": {"name": "sac"}, "mark": {"type": "line", "strokeWidth": 1.2, "clip": true},
   "encoding": {"color": {"datum": "Saclay (North)", "type": "nominal",
     "scale": {"domain": ["Saclay (North)", "Vaux de Cernay (Zenith)", "Site 2b (South)", "Site 5b (East)"], "range": ["#000000", "#9b2ff0", "#ff0000", "#0000ff"]},
     "legend": {"orient": "none", "legendX": 33, "legendY": 2, "title": null, "direction": "vertical",
       "fillColor": "white", "strokeColor": "black", "padding": 6, "rowPadding": 10,
       "symbolType": "M-3,0H3", "symbolSize": 196, "symbolStrokeWidth": 1.2, "symbolOffset": 15,
       "labelOffset": 22, "labelLimit": 0, "labelFont": "Liberation Sans", "labelFontWeight": "bold", "labelFontSize": 12.5, "labelColor": "#111"}}}},
  {"data": {"name": "vdc"}, "mark": {"type": "line", "strokeWidth": 1, "clip": true},
   "encoding": {"color": {"datum": "Vaux de Cernay (Zenith)", "type": "nominal",
     "scale": {"domain": ["Saclay (North)", "Vaux de Cernay (Zenith)", "Site 2b (South)", "Site 5b (East)"], "range": ["#000000", "#9b2ff0", "#ff0000", "#0000ff"]}}}},
  {"data": {"name": "s2b"}, "mark": {"type": "line", "strokeWidth": 1, "clip": true},
   "encoding": {"color": {"datum": "Site 2b (South)", "type": "nominal",
     "scale": {"domain": ["Saclay (North)", "Vaux de Cernay (Zenith)", "Site 2b (South)", "Site 5b (East)"], "range": ["#000000", "#9b2ff0", "#ff0000", "#0000ff"]}}}},
  {"data": {"name": "s5b"}, "mark": {"type": "line", "strokeWidth": 1, "clip": true},
   "encoding": {"color": {"datum": "Site 5b (East)", "type": "nominal",
     "scale": {"domain": ["Saclay (North)", "Vaux de Cernay (Zenith)", "Site 2b (South)", "Site 5b (East)"], "range": ["#000000", "#9b2ff0", "#ff0000", "#0000ff"]}}}}
]
}
